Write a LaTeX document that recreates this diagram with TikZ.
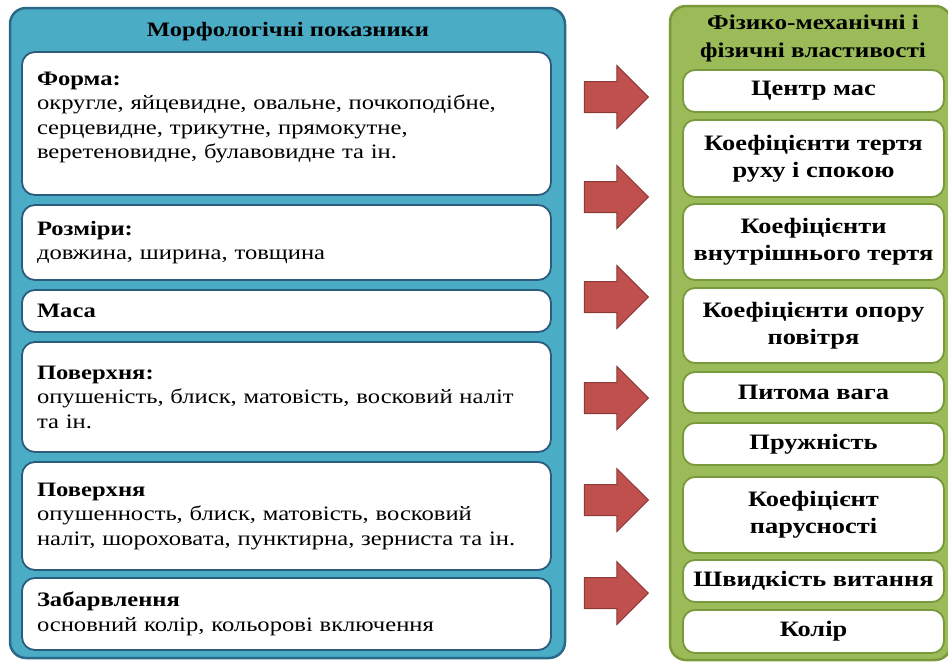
\documentclass[tikz,border=0pt]{standalone}
\usepackage{fontspec}
\setmainfont{Liberation Serif}[FakeStretch=1.2]
\usetikzlibrary{shapes.arrows}
\definecolor{bluefill}{HTML}{4BACC6}
\definecolor{blueline}{HTML}{2A6A88}
\definecolor{innerblue}{HTML}{2C5C7C}
\definecolor{greenfill}{HTML}{9BBB59}
\definecolor{greenline}{HTML}{7A9A3A}
\definecolor{innergreen}{HTML}{789A3C}
\definecolor{redfill}{HTML}{C0504D}
\definecolor{redline}{HTML}{8C3A38}
\begin{document}
\begin{tikzpicture}[x=1pt,y=-1pt,
  lpanel/.style={draw=blueline,fill=bluefill,line width=2.5pt,rounded corners=16pt,inner sep=0pt},
  rpanel/.style={draw=greenline,fill=greenfill,line width=2.5pt,rounded corners=16pt,inner sep=0pt},
  ltitle/.style={font=\bfseries\fontsize{20.5}{24}\selectfont,inner sep=0pt},
  rtitle/.style={font=\bfseries\fontsize{21}{28}\selectfont,align=center,inner sep=0pt},
  lbox/.style={draw=innerblue,fill=white,line width=1.8pt,rounded corners=13pt,
    text width=499pt,inner xsep=15pt,inner ysep=0pt,align=left,
    font=\fontsize{20.5}{24.5}\selectfont},
  rbox/.style={draw=innergreen,fill=white,line width=1.8pt,rounded corners=12pt,
    minimum width=261pt,inner sep=0pt,align=center,
    font=\bfseries\fontsize{22}{27}\selectfont},
  redarrow/.style={single arrow,draw=redline,fill=redfill,line width=1pt,
    text height=15pt,text depth=15pt,text width=0pt,anchor=tip,
    minimum height=64pt,single arrow head extend=16pt,inner sep=0pt}
]
\useasboundingbox (0,0) rectangle (948,664);
\clip (0,0) rectangle (948,664);

% left panel
\node[lpanel,minimum width=555pt,minimum height=650pt] (lp) at (287.5,333) {};
\node[ltitle] (lt) at (288,32) {Морфологічні показники};

\node[lbox,minimum height=143pt] (l1) at (286.5,123.5)
  {\textbf{Форма:}\\округле, яйцевидне, овальне, почкоподібне,\\серцевидне, трикутне, прямокутне,\\веретеновидне, булавовидне та ін.\\[-8pt]\mbox{}};
\node[lbox,minimum height=75pt] (l2) at (286.5,242.5)
  {\textbf{Розміри:}\\довжина, ширина, товщина};
\node[lbox,minimum height=42pt] (l3) at (286.5,311)
  {\textbf{Маса}};
\node[lbox,minimum height=110pt] (l4) at (286.5,397)
  {\textbf{Поверхня:}\\опушеність, блиск, матовість, восковий наліт\\та ін.};
\node[lbox,minimum height=108pt] (l5) at (286.5,516)
  {\textbf{Поверхня}\\опушенность, блиск, матовість, восковий\\наліт, шороховата, пунктирна, зерниста та ін.};
\node[lbox,minimum height=72pt] (l6) at (286.5,614)
  {\textbf{Забарвлення}\\основний колір, кольорові включення};

% right panel
\node[rpanel,minimum width=281pt,minimum height=654pt] (rp) at (810.5,333) {};
\node[rtitle] (rt) at (813,38) {Фізико-механічні і\\фізичні властивості};

\node[rbox,minimum height=42pt] (r1) at (813.5,91) {Центр мас};
\node[rbox,minimum height=77pt] (r2) at (813.5,158.5) {Коефіцієнти тертя\\руху і спокою};
\node[rbox,minimum height=76pt] (r3) at (813.5,242) {Коефіцієнти\\внутрішнього тертя};
\node[rbox,minimum height=75pt] (r4) at (813.5,325.5) {Коефіцієнти опору\\повітря};
\node[rbox,minimum height=41pt] (r5) at (813.5,392.5) {Питома вага};
\node[rbox,minimum height=42pt] (r6) at (813.5,444) {Пружність};
\node[rbox,minimum height=76pt] (r7) at (813.5,515) {Коефіцієнт\\парусності};
\node[rbox,minimum height=42pt] (r8) at (813.5,581) {Швидкість витання};
\node[rbox,minimum height=43pt] (r9) at (813.5,631.5) {Колір};

% arrows
\node[redarrow] (a1) at (649,97) {};
\node[redarrow] (a2) at (649,197) {};
\node[redarrow] (a3) at (649,297) {};
\node[redarrow] (a4) at (649,398) {};
\node[redarrow] (a5) at (649,500) {};
\node[redarrow] (a6) at (649,593) {};
\end{tikzpicture}
\end{document}
